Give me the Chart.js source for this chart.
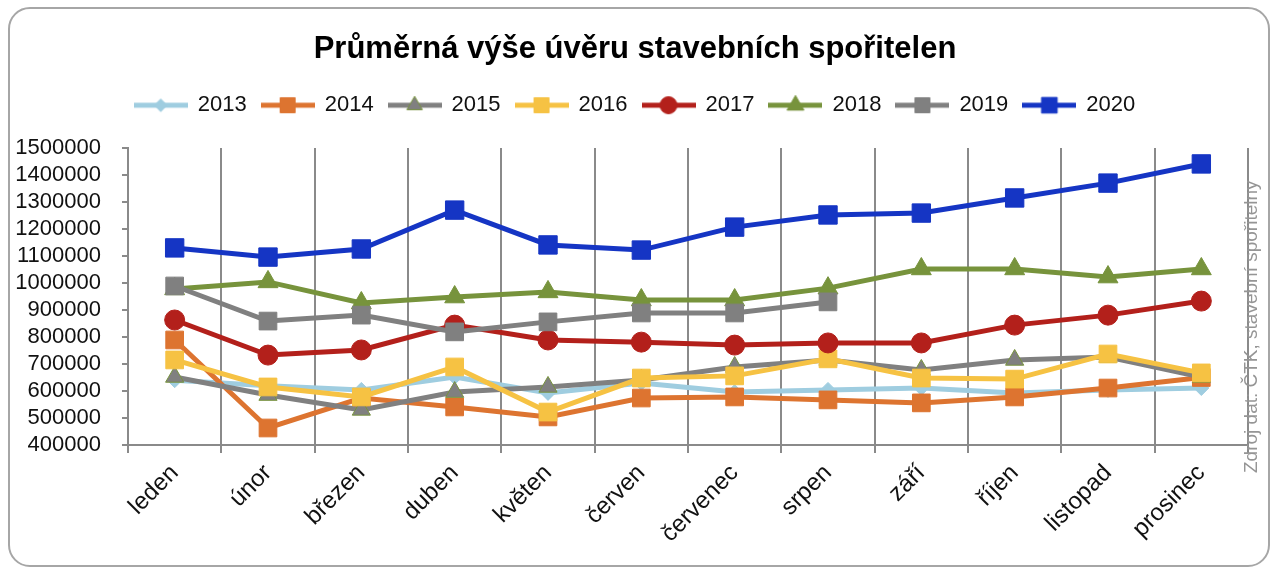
<!DOCTYPE html>
<html lang="cs">
<head>
<meta charset="utf-8">
<title>Průměrná výše úvěru stavebních spořitelen</title>
<script src="https://cdn.jsdelivr.net/npm/chart.js@4/dist/chart.umd.min.js"></script>
<style>
  html, body { margin: 0; padding: 0; background: #fff; }
  #wrap { position: relative; width: 1278px; height: 576px; }
  #frame { position: absolute; left: 8px; top: 7px; width: 1258px; height: 556px;
           border: 2px solid #a6a6a6; border-radius: 22px; }
  #chart { position: absolute; left: 0; top: 0; }
</style>
</head>
<body>
<div id="wrap">
  <div id="frame"></div>
  <canvas id="chart" width="1278" height="576"></canvas>
</div>
<script>
// data
const months = ['leden', 'únor', 'březen', 'duben', 'květen', 'červen',
                'červenec', 'srpen', 'září', 'říjen', 'listopad', 'prosinec'];

const years = ['2013', '2014', '2015', '2016', '2017', '2018', '2019', '2020'];

const values2013 = [640000, 619000, 604000, 652000, 593000, 630000, 596000, 604000, 611000, 593000, 604000, 611000];
const values2014 = [789000, 463000, 574000, 541000, 504000, 574000, 578000, 567000, 556000, 578000, 611000, 650000];
const values2015 = [652000, 585000, 530000, 596000, 615000, 641000, 689000, 715000, 678000, 715000, 726000, 652000];
const values2016 = [715000, 615000, 578000, 689000, 522000, 648000, 656000, 719000, 648000, 644000, 737000, 667000];
const values2017 = [863000, 733000, 752000, 844000, 789000, 781000, 770000, 778000, 778000, 844000, 881000, 933000];
const values2018 = [978000, 1004000, 926000, 948000, 967000, 937000, 937000, 981000, 1052000, 1052000, 1022000, 1052000];
const values2019 = [989000, 859000, 881000, 819000, 856000, 889000, 889000, 930000, null, null, null, null];
const values2020 = [1130000, 1096000, 1126000, 1270000, 1141000, 1122000, 1207000, 1252000, 1259000, 1315000, 1370000, 1441000];

const yMin = 400000;
const yMax = 1500000;
const yStep = 100000;

const titleText = 'Průměrná výše úvěru stavebních spořitelen';
const sourceText = 'Zdroj dat: ČTK, stavební spořitelny';

// styles
const lineColors   = ['#9fcde0', '#dd7430', '#808080', '#f6c243', '#b3201b', '#77933c', '#808080', '#1535c4'];
const markerFills  = ['#9fcde0', '#dd7430', '#808080', '#f6c243', '#b3201b', '#77933c', '#808080', '#1535c4'];
const markerEdges  = ['#9fcde0', '#dd7430', '#77933c', '#f6c243', '#b3201b', '#77933c', '#808080', '#1535c4'];
const markerShapes = ['rectRot', 'rect', 'triangle', 'rect', 'circle', 'triangle', 'rect', 'rect'];
const markerSizes  = [7.5, 12.5, 10.5, 12.5, 10, 11.5, 12.5, 13];

const allValues = [values2013, values2014, values2015, values2016, values2017, values2018, values2019, values2020];
const FONT = '"Liberation Sans", Arial, sans-serif';

function drawShape(g, shape, x, y, r) {
  g.beginPath();
  if (shape === 'circle') {
    g.arc(x, y, r, 0, Math.PI * 2);
  } else if (shape === 'rect') {
    const s = r * Math.SQRT1_2;
    g.rect(x - s, y - s, 2 * s, 2 * s);
  } else if (shape === 'triangle') {
    g.moveTo(x, y - r);
    g.lineTo(x + r * 0.866, y + r * 0.5);
    g.lineTo(x - r * 0.866, y + r * 0.5);
    g.closePath();
  } else {
    g.moveTo(x, y - r); g.lineTo(x + r, y); g.lineTo(x, y + r); g.lineTo(x - r, y);
    g.closePath();
  }
  g.fill();
  g.stroke();
}

// legend icons: short line with the series marker in the middle
const legendIcons = years.map((y, i) => {
  const c = document.createElement('canvas');
  c.width = 54; c.height = 24;
  const g = c.getContext('2d');
  g.strokeStyle = lineColors[i];
  g.lineWidth = 5;
  g.beginPath(); g.moveTo(0, 12); g.lineTo(54, 12); g.stroke();
  g.fillStyle = markerFills[i];
  g.strokeStyle = markerEdges[i];
  g.lineWidth = 1;
  drawShape(g, markerShapes[i], 27, 12, markerSizes[i] * 0.85);
  return c;
});

const sourceNote = {
  id: 'sourceNote',
  afterDraw(chart) {
    const ctx = chart.ctx;
    const area = chart.chartArea;
    ctx.save();
    ctx.translate(area.right + 4, area.bottom + 28);
    ctx.rotate(-Math.PI / 2);
    ctx.font = '19px ' + FONT;
    ctx.fillStyle = '#959595';
    ctx.textAlign = 'left';
    ctx.textBaseline = 'middle';
    ctx.fillText(sourceText, 0, 0);
    ctx.restore();
  }
};

const datasets = years.map((label, i) => ({
  label: label,
  data: allValues[i],
  borderColor: lineColors[i],
  borderWidth: 5,
  backgroundColor: markerFills[i],
  pointBackgroundColor: markerFills[i],
  pointBorderColor: markerEdges[i],
  pointBorderWidth: 1,
  pointStyle: markerShapes[i],
  pointRadius: markerSizes[i],
  pointHoverRadius: markerSizes[i],
  tension: 0,
  spanGaps: false,
  order: years.length - i
}));

new Chart(document.getElementById('chart'), {
  type: 'line',
  data: { labels: months, datasets: datasets },
  options: {
    responsive: false,
    animation: false,
    devicePixelRatio: 1,
    layout: { padding: { top: 12, left: 0, right: 8, bottom: 0 } },
    plugins: {
      tooltip: { enabled: false },
      title: {
        display: true,
        text: titleText,
        color: '#000',
        font: { family: FONT, size: 31, weight: 'bold' },
        padding: { top: 19, bottom: 11 }
      },
      legend: {
        position: 'top',
        labels: {
          usePointStyle: true,
          pointStyleWidth: 52,
          padding: 15,
          color: '#111',
          font: { family: FONT, size: 22 },
          sort: (a, b) => a.datasetIndex - b.datasetIndex,
          generateLabels(chart) {
            const items = Chart.defaults.plugins.legend.labels.generateLabels(chart);
            items.forEach(it => { it.pointStyle = legendIcons[it.datasetIndex]; });
            return items;
          }
        }
      }
    },
    scales: {
      x: {
        offset: true,
        grid: { offset: true, color: '#8a8a8a', lineWidth: 2, drawTicks: true, tickLength: 8 },
        border: { color: '#8a8a8a', width: 2 },
        ticks: {
          minRotation: 45, maxRotation: 45, autoSkip: false, padding: 6,
          color: '#111', font: { family: FONT, size: 24 }
        },
        afterFit(scale) { scale.height = 131; }
      },
      y: {
        min: yMin,
        max: yMax,
        grid: { display: true, drawOnChartArea: false, drawTicks: true, tickLength: 6,
                color: '#8a8a8a', lineWidth: 2 },
        border: { color: '#8a8a8a', width: 2 },
        ticks: {
          stepSize: yStep, autoSkip: false, padding: 21, color: '#111',
          font: { family: FONT, size: 22 },
          callback: v => String(v)
        },
        afterFit(scale) { scale.width = 128; }
      },
      gapTop: {
        type: 'category', position: 'top',
        grid: { display: false }, border: { display: false }, ticks: { display: false },
        afterFit(scale) { scale.height = 21.8; }
      },
      gapRight: {
        type: 'linear', position: 'right',
        grid: { display: false }, border: { display: false }, ticks: { display: false },
        afterFit(scale) { scale.width = 22; }
      }
    }
  },
  plugins: [sourceNote]
});
</script>
</body>
</html>
